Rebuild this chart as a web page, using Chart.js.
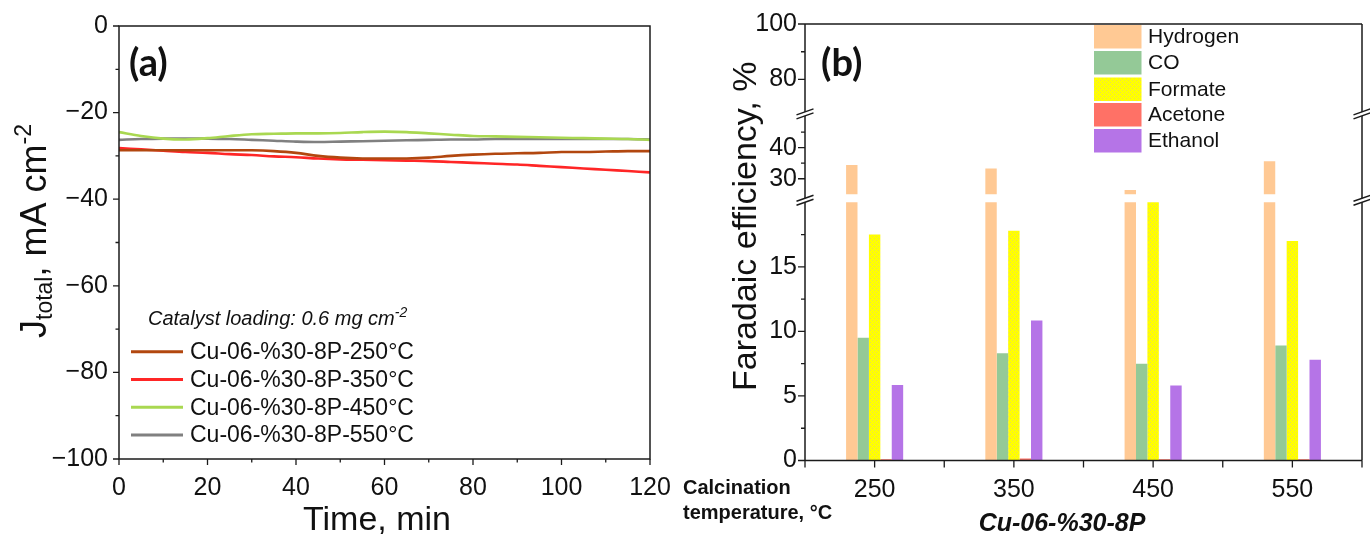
<!DOCTYPE html>
<html><head><meta charset="utf-8">
<script src="https://cdn.jsdelivr.net/npm/chart.js@4.4.1/dist/chart.umd.min.js"></script>
<style>
html,body{margin:0;padding:0;background:#fff;}
#wrap{position:relative;width:1370px;height:534px;overflow:hidden;background:#fff;}
#wrap canvas{position:absolute;left:0;top:0;}
</style></head><body>
<div id="wrap">
<canvas id="cA" width="1370" height="534"></canvas>
<canvas id="cTop" width="1370" height="534"></canvas>
<canvas id="cMid" width="1370" height="534"></canvas>
<canvas id="cBot" width="1370" height="534"></canvas>
</div>
<script>
// ================= Panel (a) data =================
const timeMin = [0,5,10,15,20,25,30,35,40,45,50,55,60,65,70,75,80,85,90,95,100,105,110,115,120];
const j250 = [-28.7,-28.7,-28.7,-28.7,-28.7,-28.7,-28.7,-28.9,-29.3,-30.0,-30.4,-30.6,-30.6,-30.6,-30.4,-30.0,-29.7,-29.5,-29.4,-29.3,-29.1,-29.1,-29.0,-28.9,-28.9];
const j350 = [-28.2,-28.5,-28.8,-29.1,-29.3,-29.6,-29.8,-30.1,-30.3,-30.6,-30.8,-30.9,-31.0,-31.1,-31.2,-31.4,-31.6,-31.8,-32.0,-32.3,-32.6,-32.9,-33.2,-33.5,-33.8];
const j450 = [-24.5,-25.4,-26.0,-26.2,-25.9,-25.4,-25.0,-24.9,-24.8,-24.8,-24.7,-24.5,-24.4,-24.5,-24.8,-25.1,-25.4,-25.5,-25.6,-25.7,-25.8,-25.9,-26.0,-26.1,-26.3];
const j550 = [-26.3,-26.1,-26.0,-26.0,-26.0,-26.1,-26.3,-26.5,-26.7,-26.8,-26.7,-26.6,-26.5,-26.4,-26.3,-26.2,-26.2,-26.1,-26.1,-26.1,-26.1,-26.1,-26.1,-26.1,-26.2];
const seriesLabels = ['Cu-06-%30-8P-250°C','Cu-06-%30-8P-350°C','Cu-06-%30-8P-450°C','Cu-06-%30-8P-550°C'];
const seriesColors = ['#b2470f','#ff2626','#a9d851','#808080'];
const xTicksA = [0,20,40,60,80,100,120];
const xMinorA = [10,30,50,70,90,110];
const yTicksA = [0,-20,-40,-60,-80,-100];
const yMinorA = [-10,-30,-50,-70,-90];

// ================= Panel (b) data =================
const calcTemps = ['250','350','450','550'];
const productNames = ['Hydrogen','CO','Formate','Acetone','Ethanol'];
const feHydrogen = [34.4, 33.3, 26.4, 35.6];
const feCO       = [9.5, 8.3, 7.5, 8.9];
const feFormate  = [17.5, 17.8, 21.0, 17.0];
const feAcetone  = [0.1, 0.15, 0.1, 0.1];
const feEthanol  = [5.85, 10.85, 5.8, 7.8];
const topTicks = [80,100],        topMinor = [90];
const midTicks = [30,40],         midMinor = [35,45];
const botTicks = [0,5,10,15],     botMinor = [2.5,7.5,12.5,17.5];

// ================= styling =================
const FONT = "'Liberation Sans', Arial, Helvetica, sans-serif";
const INK = '#111111';
const TICK_SIZE = 25;
Chart.defaults.font.family = FONT;
Chart.defaults.color = INK;

function formatePattern(){
  const c = document.createElement('canvas'); c.width = 4; c.height = 4;
  const g = c.getContext('2d');
  g.fillStyle = '#ffff00'; g.fillRect(0,0,4,4);
  g.fillStyle = '#ecdc4e'; g.fillRect(0,0,1,1); g.fillRect(2,2,1,1);
  return g.createPattern(c,'repeat');
}
const productColors = ['#ffc994','#94c997',formatePattern(),'#ff7166','#b574e7'];
const productValues = [feHydrogen, feCO, feFormate, feAcetone, feEthanol];
const minusFmt = v => String(v).replace('-', '\u2212');

function richText(ctx, parts, x, y){
  let cx = x;
  parts.forEach(p=>{
    ctx.font = (p[3]||'') + ' ' + p[1] + 'px ' + FONT;
    ctx.fillText(p[0], cx, y + p[2]);
    cx += ctx.measureText(p[0]).width;
  });
}

// ================= Panel (a) =================
const decoA = {
  id:'decoA',
  afterDraw(chart){
    const {ctx, chartArea:a, scales:{x,y}} = chart;
    ctx.save();
    ctx.strokeStyle = '#1b1b1b';
    ctx.lineWidth = 1.5;
    ctx.strokeRect(a.left, a.top, a.right-a.left, a.bottom-a.top);
    ctx.lineWidth = 1.3;
    ctx.beginPath();
    yTicksA.forEach(v=>{const p=y.getPixelForValue(v); ctx.moveTo(a.left-6,p); ctx.lineTo(a.left,p);});
    yMinorA.forEach(v=>{const p=y.getPixelForValue(v); ctx.moveTo(a.left-3.5,p); ctx.lineTo(a.left,p);});
    xTicksA.forEach(v=>{const p=x.getPixelForValue(v); ctx.moveTo(p,a.bottom); ctx.lineTo(p,a.bottom+6);});
    xMinorA.forEach(v=>{const p=x.getPixelForValue(v); ctx.moveTo(p,a.bottom); ctx.lineTo(p,a.bottom+3.5);});
    ctx.stroke();

    ctx.fillStyle = INK;
    ctx.font = "bold 38px Lato, " + FONT;
    ctx.textBaseline = 'alphabetic'; ctx.textAlign = 'left';
    ctx.fillText('(a)', 129, 76);

    // x title
    ctx.textAlign = 'center';
    ctx.font = '34px ' + FONT;
    ctx.fillText('Time, min', 377, 530);
    ctx.textAlign = 'left';

    // y title with subscript / superscript
    ctx.save();
    ctx.translate(46, 338);
    ctx.rotate(-Math.PI/2);
    richText(ctx, [['J',36,0],['total',23,6],[', mA cm',36,0],['-2',23,-15]], 0, 0);
    ctx.restore();

    // legend
    richText(ctx, [['Catalyst loading: 0.6 mg cm',20,0,'italic'],['-2',14,-8,'italic']], 148, 325);
    chart.data.datasets.forEach((ds,i)=>{
      const yy = 351.7 + i*27.8;
      ctx.strokeStyle = ds.borderColor; ctx.lineWidth = 3;
      ctx.beginPath(); ctx.moveTo(131,yy); ctx.lineTo(183,yy); ctx.stroke();
      ctx.fillStyle = INK; ctx.font = '23px ' + FONT; ctx.textBaseline = 'middle';
      ctx.fillText(ds.label, 190, yy+1);
    });
    ctx.restore();
  }
};

const seriesJ = [j250, j350, j450, j550];
new Chart(document.getElementById('cA'), {
  type:'line',
  data:{ datasets: seriesLabels.map((lab,i)=>({
    label: lab,
    data: timeMin.map((t,k)=>({x:t, y:seriesJ[i][k]})),
    borderColor: seriesColors[i], borderWidth: 2.6, pointRadius: 0, tension: 0.35, fill:false
  }))},
  options:{
    responsive:false, animation:false, devicePixelRatio:1,
    layout:{padding:{left:0, top:24, right:720, bottom:0}},
    plugins:{legend:{display:false}, tooltip:{enabled:false}},
    scales:{
      x:{type:'linear', min:0, max:120,
        afterBuildTicks:s=>{s.ticks = xTicksA.map(v=>({value:v}));},
        ticks:{font:{size:TICK_SIZE}, padding:14, color:INK, maxRotation:0, autoSkip:false},
        grid:{display:false, drawTicks:false}, border:{display:false},
        afterFit:s=>{s.height = 75;}},
      y:{type:'linear', min:-100, max:0,
        afterBuildTicks:s=>{s.ticks = yTicksA.map(v=>({value:v}));},
        ticks:{font:{size:TICK_SIZE}, padding:11, color:INK, callback:v=>minusFmt(v)},
        grid:{display:false, drawTicks:false}, border:{display:false},
        afterFit:s=>{s.width = 119;}}
    }
  },
  plugins:[decoA]
});

// ================= Panel (b) =================
const segDefs = [
  {id:'cTop', min:70, max:100, ticks:topTicks, minor:topMinor, top:24,    bottom:534-107.2},
  {id:'cMid', min:25, max:50,  ticks:midTicks, minor:midMinor, top:116.5, bottom:534-194.3},
  {id:'cBot', min:0,  max:20,  ticks:botTicks, minor:botMinor, top:202.3, bottom:0}
];
const segCharts = [];

function breakMark(ctx, x, yc){
  ctx.save();
  ctx.fillStyle = '#fff';
  ctx.beginPath();
  ctx.moveTo(x-8.5, yc+1); ctx.lineTo(x+8.5, yc-5); ctx.lineTo(x+8.5, yc-1); ctx.lineTo(x-8.5, yc+5);
  ctx.closePath(); ctx.fill();
  ctx.strokeStyle = '#1b1b1b'; ctx.lineWidth = 1.5;
  ctx.beginPath();
  ctx.moveTo(x-8.5, yc+1); ctx.lineTo(x+8.5, yc-5);
  ctx.moveTo(x-8.5, yc+5); ctx.lineTo(x+8.5, yc-1);
  ctx.stroke();
  ctx.restore();
}

const decoB = {
  id:'decoB',
  afterDraw(chart){
    const ctx = chart.ctx;
    const all = segCharts.concat([chart]);
    const aTop = all[0].chartArea, aMid = all[1].chartArea, aBot = chart.chartArea;
    const L = aBot.left, R = aBot.right, T = aTop.top, B = aBot.bottom;
    ctx.save();
    ctx.strokeStyle = '#1b1b1b'; ctx.lineWidth = 1.5;
    ctx.beginPath();
    ctx.moveTo(L, T); ctx.lineTo(R, T);
    ctx.moveTo(L, B); ctx.lineTo(R, B);
    ctx.moveTo(L, T); ctx.lineTo(L, B);
    ctx.moveTo(R, T); ctx.lineTo(R, B);
    ctx.stroke();
    ctx.lineWidth = 1.3;
    ctx.beginPath();
    all.forEach((c,i)=>{
      const ys = c.scales.y, d = segDefs[i];
      d.ticks.forEach(v=>{const p=ys.getPixelForValue(v); ctx.moveTo(L-7,p); ctx.lineTo(L,p);});
      d.minor.forEach(v=>{const p=ys.getPixelForValue(v); ctx.moveTo(L-4,p); ctx.lineTo(L,p);});
    });
    const xs = chart.scales.x;
    const half = (xs.getPixelForValue(1) - xs.getPixelForValue(0))/2;
    calcTemps.forEach((c,i)=>{
      const p = xs.getPixelForValue(i);
      [p-half, p, p+half].forEach(q=>{ctx.moveTo(q,B); ctx.lineTo(q,B+7);});
    });
    ctx.stroke();
    const g1 = (aTop.bottom + aMid.top)/2, g2 = (aMid.bottom + aBot.top)/2;
    [L, R].forEach(xx=>{ breakMark(ctx, xx, g1+2); breakMark(ctx, xx, g2+2); });

    ctx.fillStyle = INK;
    ctx.textAlign = 'left'; ctx.textBaseline = 'alphabetic';
    ctx.font = "bold 38px Lato, " + FONT;
    ctx.fillText('(b)', 821, 76);

    const rows = [25, 51, 77.5, 103, 129];
    productNames.forEach((n,i)=>{
      ctx.fillStyle = productColors[i];
      ctx.fillRect(1094, rows[i], 47.5, 23.5);
      ctx.fillStyle = INK; ctx.font = '21px ' + FONT; ctx.textBaseline = 'middle';
      ctx.fillText(n, 1148, rows[i] + 12.5);
    });

    ctx.save();
    ctx.translate(756, 391); ctx.rotate(-Math.PI/2);
    ctx.textBaseline = 'alphabetic'; ctx.textAlign = 'left';
    ctx.font = '34px ' + FONT;
    ctx.fillText('Faradaic efficiency, %', 0, 0);
    ctx.restore();

    ctx.textBaseline = 'alphabetic'; ctx.textAlign = 'left';
    ctx.font = 'bold 20px ' + FONT;
    ctx.fillText('Calcination', 683, 494);
    ctx.fillText('temperature, °C', 683, 519);
    ctx.textAlign = 'center';
    ctx.font = 'italic bold 25px ' + FONT;
    ctx.fillText('Cu-06-%30-8P', 1062, 531);
    ctx.restore();
  }
};

segDefs.forEach((d,i)=>{
  const isBottom = i === 2;
  const ch = new Chart(document.getElementById(d.id), {
    type:'bar',
    data:{ labels: calcTemps, datasets: productNames.map((n,k)=>({
      label:n, data: productValues[k], backgroundColor: productColors[k], borderWidth:0,
      barPercentage:1, categoryPercentage:0.41, clip:0
    }))},
    options:{
      responsive:false, animation:false, devicePixelRatio:1,
      layout:{padding:{left:0, top:d.top, right:8, bottom:d.bottom}},
      plugins:{legend:{display:false}, tooltip:{enabled:false}},
      scales:{
        x:{display:isBottom, offset:true,
          grid:{display:false, drawTicks:false, offset:true}, border:{display:false},
          ticks:{font:{size:TICK_SIZE}, padding:15, color:INK, maxRotation:0},
          afterFit:s=>{s.height = isBottom ? 73.5 : 0;}},
        y:{min:d.min, max:d.max,
          afterBuildTicks:s=>{s.ticks = d.ticks.map(v=>({value:v}));},
          ticks:{font:{size:TICK_SIZE}, padding:8, color:INK},
          grid:{display:false, drawTicks:false}, border:{display:false},
          afterFit:s=>{s.width = 805;}}
      }
    },
    plugins: isBottom ? [decoB] : []
  });
  if (!isBottom) segCharts.push(ch);
});
</script>
</body></html>
